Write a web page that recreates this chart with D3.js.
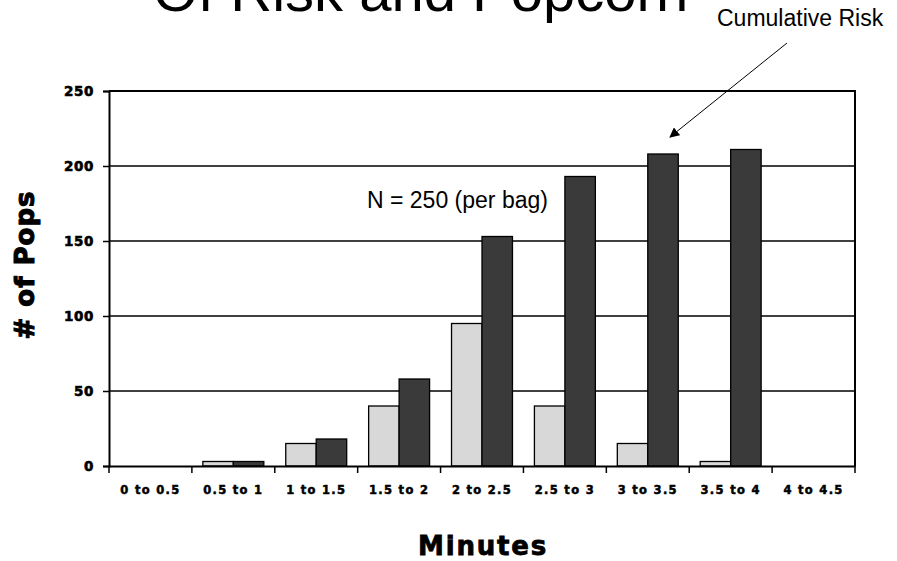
<!DOCTYPE html>
<html>
<head>
<meta charset="utf-8">
<script src="https://cdn.jsdelivr.net/npm/d3@7"></script>
<style>
html,body{margin:0;padding:0;background:#fff;}
svg{display:block;}
</style>
</head>
<body>
<svg id="chart" width="897" height="561"></svg>
<script>
const categories = ["0 to 0.5","0.5 to 1","1 to 1.5","1.5 to 2","2 to 2.5","2.5 to 3","3 to 3.5","3.5 to 4","4 to 4.5"];
const popsPerInterval = [0, 3, 15, 40, 95, 40, 15, 3, 0];
const cumulativePops = [0, 3, 18, 58, 153, 193, 208, 211, 0];
const yTicks = [0, 50, 100, 150, 200, 250];
const seriesNames = ["Per interval", "Cumulative"];

const svg = d3.select("#chart");
const m = {left:109, right:855, top:91, bottom:466};

const x = d3.scaleBand().domain(categories).range([m.left, m.right]).paddingInner(0).paddingOuter(0);
const xs = d3.scaleBand().domain(seriesNames).range([0, x.bandwidth()]).paddingInner(0).paddingOuter(0.36);
const y = d3.scaleLinear().domain([0, 250]).range([m.bottom, m.top]);

const heavy = "'DejaVu Sans', sans-serif";

// gridlines
svg.append("g").selectAll("line").data(yTicks.filter(d => d > 0 && d < 250)).join("line")
  .attr("x1", m.left).attr("x2", m.right)
  .attr("y1", d => y(d)).attr("y2", d => y(d))
  .attr("stroke", "#000").attr("stroke-width", 1.3);

// bars
const data = categories.map((c, i) => ({c, vals: [popsPerInterval[i], cumulativePops[i]]}));
const fills = ["#d8d8d8", "#3a3a3a"];
const g = svg.append("g");
data.forEach(d => {
  d.vals.forEach((v, j) => {
    if (v <= 0) return;
    g.append("rect")
      .attr("x", x(d.c) + xs(seriesNames[j]))
      .attr("y", y(v))
      .attr("width", xs.bandwidth())
      .attr("height", y(0) - y(v))
      .attr("fill", fills[j])
      .attr("stroke", "#000").attr("stroke-width", 1.3);
  });
});

// frame (top and right)
svg.append("path")
  .attr("d", `M${m.left},${m.top}H${m.right}V${m.bottom}`)
  .attr("fill", "none").attr("stroke", "#000").attr("stroke-width", 2);

// y axis
const yAxis = d3.axisLeft(y).tickValues(yTicks).tickSize(6).tickPadding(9);
const ya = svg.append("g").attr("transform", `translate(${m.left},0)`).call(yAxis);
ya.select(".domain").attr("stroke-width", 2);
ya.selectAll(".tick line").attr("stroke-width", 1.5);
ya.selectAll("text").attr("font-family", heavy).attr("font-weight", "bold")
  .attr("font-size", 13.5).attr("letter-spacing", "0.6px").attr("fill", "#000")
  .attr("stroke", "#000").attr("stroke-width", 0.6);

// x axis
const xAxis = d3.axisBottom(x).tickSize(0).tickPadding(20);
const xa = svg.append("g").attr("transform", `translate(0,${m.bottom})`).call(xAxis);
xa.select(".domain").attr("stroke-width", 2);
xa.selectAll("text").attr("font-family", heavy).attr("font-weight", "bold")
  .attr("font-size", 11.5).attr("letter-spacing", "1.3px").attr("fill", "#000")
  .attr("stroke", "#000").attr("stroke-width", 0.5);
// boundary ticks
const bounds = categories.map(c => x(c)).concat([m.right]);
xa.append("g").selectAll("line").data(bounds).join("line")
  .attr("x1", d => d).attr("x2", d => d).attr("y1", 0).attr("y2", 7)
  .attr("stroke", "#000").attr("stroke-width", 1.5);

// title (cut off at the top edge, as in the reference)
svg.append("text").attr("x", 153).attr("y", 11)
  .attr("font-family", "'Liberation Sans', Arial, sans-serif").attr("font-size", 58)
  .text("Of Risk and Popcorn");

// axis titles
svg.append("text").attr("x", 483).attr("y", 555).attr("text-anchor", "middle")
  .attr("font-family", heavy).attr("font-weight", "bold").attr("font-size", 26)
  .attr("letter-spacing", "1.8px").attr("stroke", "#000").attr("stroke-width", 0.8)
  .text("Minutes");
svg.append("text").attr("transform", "translate(34,265) rotate(-90)").attr("text-anchor", "middle")
  .attr("font-family", heavy).attr("font-weight", "bold").attr("font-size", 26)
  .attr("letter-spacing", "1px").attr("stroke", "#000").attr("stroke-width", 1)
  .text("# of Pops");

// annotations
svg.append("text").attr("x", 367).attr("y", 208)
  .attr("font-family", "'Liberation Sans', Arial, sans-serif").attr("font-size", 23)
  .text("N = 250 (per bag)");
svg.append("text").attr("x", 717).attr("y", 26)
  .attr("font-family", "'Liberation Sans', Arial, sans-serif").attr("font-size", 23)
  .text("Cumulative Risk");

// arrow
svg.append("defs").append("marker").attr("id", "ah").attr("viewBox", "0 0 10 10")
  .attr("refX", 9).attr("refY", 5).attr("markerWidth", 10).attr("markerHeight", 10)
  .attr("markerUnits", "userSpaceOnUse").attr("orient", "auto")
  .append("path").attr("d", "M0,0L10,5L0,10z").attr("fill", "#000");
svg.append("line").attr("x1", 787).attr("y1", 43).attr("x2", 670).attr("y2", 137)
  .attr("stroke", "#000").attr("stroke-width", 1).attr("marker-end", "url(#ah)");
</script>
</body>
</html>
